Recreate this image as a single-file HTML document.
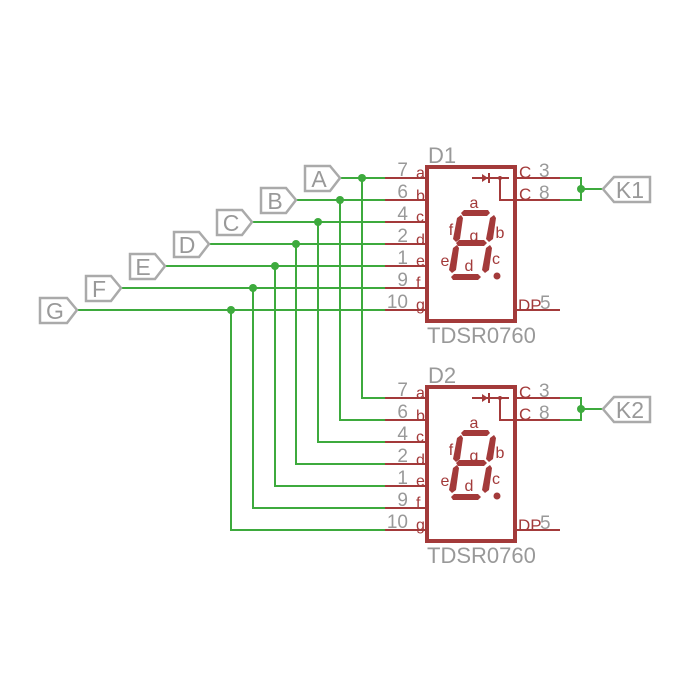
<!DOCTYPE html>
<html><head><style>html,body{margin:0;padding:0;background:#fff}svg{display:block}</style></head>
<body>
<svg width="700" height="700" viewBox="0 0 700 700" xmlns="http://www.w3.org/2000/svg" font-family="Liberation Sans, sans-serif">
<defs>
<g id="dev">
  <rect x="427" y="167" width="88" height="154" fill="none" stroke="#a33a3a" stroke-width="4"/>
  <g stroke="#a33a3a" stroke-width="2">
    <line x1="385" y1="178" x2="427" y2="178"/>
    <line x1="385" y1="200" x2="427" y2="200"/>
    <line x1="385" y1="222" x2="427" y2="222"/>
    <line x1="385" y1="244" x2="427" y2="244"/>
    <line x1="385" y1="266" x2="427" y2="266"/>
    <line x1="385" y1="288" x2="427" y2="288"/>
    <line x1="385" y1="310" x2="427" y2="310"/>
    <line x1="515" y1="178" x2="560" y2="178"/>
    <line x1="515" y1="200" x2="560" y2="200"/>
    <line x1="515" y1="310" x2="560" y2="310"/>
    <line x1="472" y1="178" x2="509" y2="178"/>
    <polyline points="500,178 500,200 515,200" fill="none"/>
  </g>
  <polygon points="482,174 482,182 488,178" fill="#a33a3a"/>
  <line x1="489" y1="173" x2="489" y2="183" stroke="#a33a3a" stroke-width="2"/>
  <circle cx="500" cy="178" r="2" fill="#a33a3a"/>
  <g fill="#a33a3a">
    <polygon points="464,210 488,210 490,213 487,216 463,216 461,213"/>
    <polygon points="457,218 461,215 463,218 460,239 456,242 453,239"/>
    <polygon points="490,218 494,215 496,218 493,239 489,242 486,239"/>
    <polygon points="459,240 484,240 487,243 484,246 458,246 456,243"/>
    <polygon points="453,248 457,245 459,248 456,270 452,273 449,270"/>
    <polygon points="486,248 490,245 492,248 489,270 485,273 482,270"/>
    <polygon points="454,274 478,274 481,277 478,280 453,280 451,277"/>
    <circle cx="497" cy="276" r="3.5"/>
  </g>
  <g fill="#a33a3a" font-size="16">
    <text x="474" y="208" text-anchor="middle">a</text>
    <text x="451" y="235" text-anchor="middle">f</text>
    <text x="474" y="241" text-anchor="middle">g</text>
    <text x="500" y="238" text-anchor="middle">b</text>
    <text x="445" y="266" text-anchor="middle">e</text>
    <text x="469" y="271" text-anchor="middle">d</text>
    <text x="496" y="264" text-anchor="middle">c</text>
    <text x="416" y="178">a</text><text x="416" y="201">b</text><text x="416" y="222">c</text>
    <text x="416" y="245">d</text><text x="416" y="266">e</text><text x="416" y="288">f</text>
    <text x="416" y="310">g</text>
    <text x="519" y="178" font-size="17">C</text>
    <text x="519" y="200" font-size="17">C</text>
    <text x="518" y="311" font-size="17">DP</text>
  </g>
  <g fill="#999" font-size="19">
    <text x="408" y="176" text-anchor="end">7</text>
    <text x="408" y="198" text-anchor="end">6</text>
    <text x="408" y="220" text-anchor="end">4</text>
    <text x="408" y="242" text-anchor="end">2</text>
    <text x="408" y="264" text-anchor="end">1</text>
    <text x="408" y="286" text-anchor="end">9</text>
    <text x="408" y="308" text-anchor="end">10</text>
    <text x="539" y="177">3</text>
    <text x="539" y="199">8</text>
    <text x="540" y="309">5</text>
    <text x="427" y="343" font-size="22">TDSR0760</text>
  </g>
</g>
</defs>
<use href="#dev"/>
<use href="#dev" transform="translate(0,220)"/>
<g fill="#999" font-size="22">
  <text x="428" y="163">D1</text>
  <text x="428" y="383">D2</text>
</g>
<g stroke="#3daa3d" stroke-width="2" fill="none">
  <line x1="340" y1="178" x2="385" y2="178"/>
  <line x1="296" y1="200" x2="385" y2="200"/>
  <line x1="252" y1="222" x2="385" y2="222"/>
  <line x1="209" y1="244" x2="385" y2="244"/>
  <line x1="165" y1="266" x2="385" y2="266"/>
  <line x1="121" y1="288" x2="385" y2="288"/>
  <line x1="77" y1="310" x2="385" y2="310"/>
  <polyline points="362,178 362,398 385,398"/>
  <polyline points="340,200 340,420 385,420"/>
  <polyline points="318,222 318,442 385,442"/>
  <polyline points="296,244 296,464 385,464"/>
  <polyline points="275,266 275,486 385,486"/>
  <polyline points="253,288 253,508 385,508"/>
  <polyline points="231,310 231,530 385,530"/>
  <polyline points="560,178 581,178 581,200 560,200"/>
  <line x1="581" y1="189" x2="603" y2="189"/>
  <polyline points="560,398 581,398 581,420 560,420"/>
  <line x1="581" y1="409" x2="603" y2="409"/>
</g>
<g fill="#3daa3d">
  <circle cx="362" cy="178" r="4"/><circle cx="340" cy="200" r="4"/><circle cx="318" cy="222" r="4"/>
  <circle cx="296" cy="244" r="4"/><circle cx="275" cy="266" r="4"/><circle cx="253" cy="288" r="4"/>
  <circle cx="231" cy="310" r="4"/><circle cx="581" cy="189" r="4"/><circle cx="581" cy="409" r="4"/>
</g>
<g fill="#fff" stroke="#aaa" stroke-width="2.5">
  <polygon points="305,166 330,166 340,178 330,191 305,191"/>
  <polygon points="261,188 286,188 296,200 286,213 261,213"/>
  <polygon points="217,210 242,210 252,222 242,235 217,235"/>
  <polygon points="174,232 199,232 209,244 199,257 174,257"/>
  <polygon points="130,254 155,254 165,266 155,279 130,279"/>
  <polygon points="86,276 111,276 121,288 111,301 86,301"/>
  <polygon points="40,298 67,298 77,310 67,323 40,323"/>
  <polygon points="603,189 614,177 650,177 650,202 614,202"/>
  <polygon points="603,409 614,397 650,397 650,422 614,422"/>
</g>
<g fill="#999" font-size="23" text-anchor="middle">
  <text x="319" y="187">A</text><text x="275" y="209">B</text><text x="231" y="231">C</text>
  <text x="187" y="253">D</text><text x="143" y="275">E</text><text x="99" y="297">F</text>
  <text x="55" y="319">G</text>
  <text x="630" y="198">K1</text><text x="630" y="418">K2</text>
</g>
</svg>
</body></html>
